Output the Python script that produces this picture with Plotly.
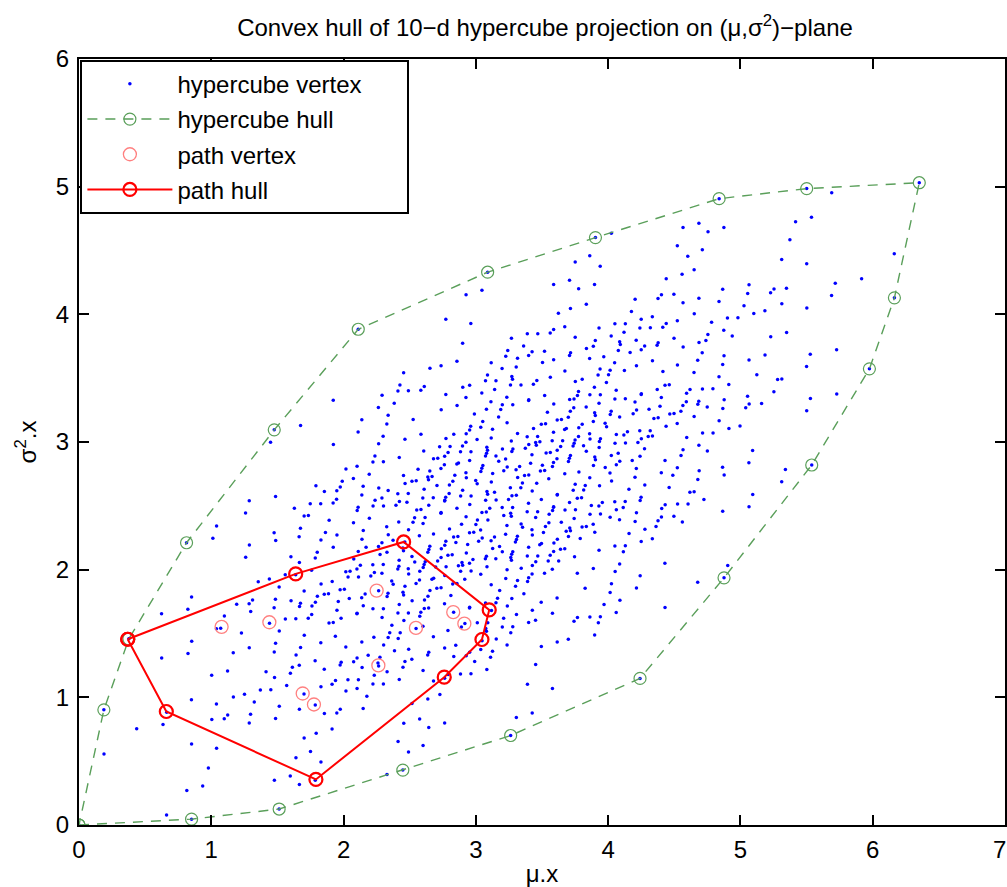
import itertools
import numpy as np
import plotly.graph_objects as go

# Generators of the 10-d hypercube projection: (mu_i, sigma2_i), read from hull edges
mu_gen = [0.188, 0.189, 0.436, 0.663, 0.635, 0.978, 0.815, 0.935, 0.662, 0.851]
sigma2_gen = [0.902, 0.556, 0.753, 0.884, 0.788, 0.447, 0.271, 0.305, 0.079, 0.046]

# Path hull vertices (closed polygon)
path_hull_mu = [0.368, 1.638, 2.454, 3.101, 3.046, 2.761, 1.791, 0.660, 0.368]
path_hull_s2 = [1.455, 1.967, 2.217, 1.685, 1.453, 1.158, 0.357, 0.889, 1.455]

# Path vertices (interior ones plus the hull ones)
path_vertex_mu = [1.078, 1.439, 2.250, 2.547, 2.829, 2.913, 2.263, 1.691, 1.776,
                  0.368, 1.638, 2.454, 3.101, 3.046, 2.761, 1.791, 0.660]
path_vertex_s2 = [1.552, 1.588, 1.836, 1.544, 1.667, 1.577, 1.250, 1.030, 0.944,
                  1.455, 1.967, 2.217, 1.685, 1.453, 1.158, 0.357, 0.889]

x_ticks = [0, 1, 2, 3, 4, 5, 6]
y_ticks = [0, 1, 2, 3, 4, 5, 6]
x_last_tick = 7

# Hypercube vertices projected on the (mu, sigma^2) plane
bits = np.array(list(itertools.product([0, 1], repeat=len(mu_gen))), dtype=float)
vx = bits @ np.array(mu_gen)
vy = bits @ np.array(sigma2_gen)


def convex_hull(xs, ys):
    pts = sorted(set(zip(np.round(xs, 9), np.round(ys, 9))))

    def cross(o, a, b):
        return (a[0] - o[0]) * (b[1] - o[1]) - (a[1] - o[1]) * (b[0] - o[0])

    lower, upper = [], []
    for p in pts:
        while len(lower) >= 2 and cross(lower[-2], lower[-1], p) <= 0:
            lower.pop()
        lower.append(p)
    for p in reversed(pts):
        while len(upper) >= 2 and cross(upper[-2], upper[-1], p) <= 0:
            upper.pop()
        upper.append(p)
    hull = lower[:-1] + upper[:-1]
    hull.append(hull[0])
    return [p[0] for p in hull], [p[1] for p in hull]


hx, hy = convex_hull(vx, vy)

FONT = "Liberation Sans, Arial, Helvetica, sans-serif"
FS = 24
PAD = "\u00a0" * 6  # widens the legend box like the reference

fig = go.Figure()
fig.add_trace(go.Scatter(
    x=vx, y=vy, mode="markers", name="hypercube vertex" + PAD, legendgroup="a",
    marker=dict(color="#0000ff", size=3.5, line=dict(width=0)),
))
fig.add_trace(go.Scatter(
    x=hx, y=hy, mode="lines+markers", name="hypercube hull", legendgroup="b",
    line=dict(color="#5a9f5a", width=1.4, dash="10px,8px"),
    marker=dict(symbol="circle-open", size=12, color="#5a9f5a", line=dict(width=1.2)),
))
fig.add_trace(go.Scatter(
    x=path_vertex_mu, y=path_vertex_s2, mode="markers", name="path vertex", legendgroup="c",
    marker=dict(symbol="circle-open", size=13, color="#ff8080", line=dict(width=1.3)),
))
fig.add_trace(go.Scatter(
    x=path_hull_mu, y=path_hull_s2, mode="lines+markers", name="path hull", legendgroup="d",
    line=dict(color="#ff0000", width=2),
    marker=dict(symbol="circle-open", size=13, color="#ff0000", line=dict(width=2.2)),
))

axis_common = dict(
    showgrid=False, zeroline=False, showline=True, linecolor="black", linewidth=2,
    mirror="ticks", ticks="inside", ticklen=10, tickwidth=2, tickcolor="black",
    tickfont=dict(family=FONT, size=FS, color="black"), automargin=False,
)

fig.update_layout(
    width=1007, height=887, autosize=False,
    margin=dict(l=79, r=2, t=59, b=62),
    paper_bgcolor="white", plot_bgcolor="white",
    font=dict(family=FONT, color="black"),
    title=dict(
        text="Convex hull of 10\u2212d hypercube projection on (\u03bc,\u03c3<sup>2</sup>)\u2212plane",
        x=545 / 1007, xanchor="center", y=1 - 28 / 887, yanchor="middle",
        font=dict(family=FONT, size=FS, color="black"),
    ),
    xaxis=dict(range=[0, 7], tickvals=x_ticks + [x_last_tick],
               ticktext=[str(t) for t in x_ticks] + [""], ticklabelstandoff=2,
               title=dict(text="\u03bc.x", font=dict(family=FONT, size=FS), standoff=3),
               **axis_common),
    yaxis=dict(range=[0, 6], tickvals=y_ticks, ticklabelstandoff=3,
               title=dict(text="\u03c3<sup>2</sup>.x", font=dict(family=FONT, size=FS), standoff=12),
               **axis_common),
    legend=dict(
        x=0.0015, y=0.999, xanchor="left", yanchor="top",
        bgcolor="white", bordercolor="black", borderwidth=2,
        font=dict(family=FONT, size=FS, color="black"),
        itemwidth=85, traceorder="grouped", tracegroupgap=1,
    ),
    showlegend=True,
    annotations=[dict(
        x=x_last_tick, xref="x", y=0, yref="y", yanchor="top", yshift=-9,
        xanchor="right", xshift=3, text=str(x_last_tick), showarrow=False,
        font=dict(family=FONT, size=FS, color="black"),
    )],
)

fig.write_html(
    "out.html",
    config={"responsive": False, "displayModeBar": False},
    post_script=(
        "document.body.style.margin='0px';"
        "document.body.style.overflow='hidden';"
        "Plotly.relayout('{plot_id}', {width: 1007, height: 887});"
    ),
)
